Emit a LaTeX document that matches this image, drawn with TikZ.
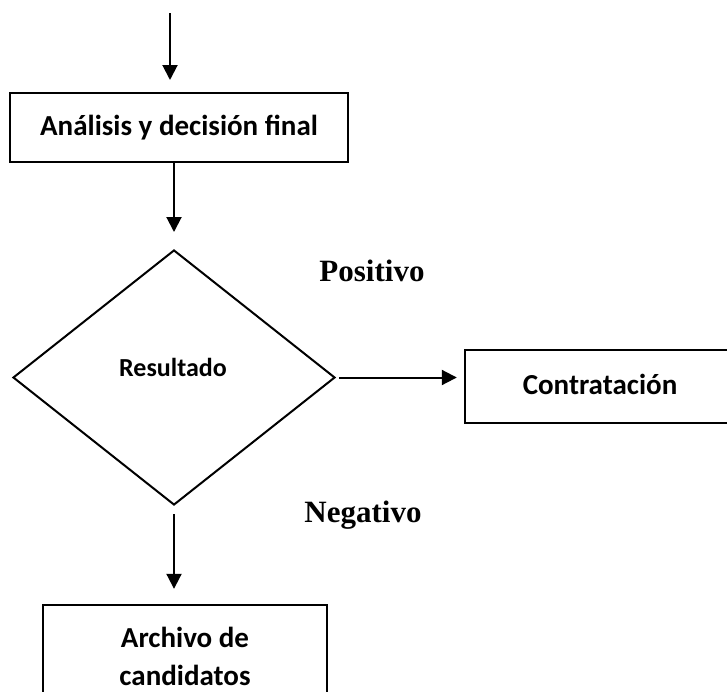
\documentclass[tikz,border=0pt]{standalone}
\usepackage{fontspec}
\setmainfont{Carlito}
\newfontfamily\timesf{Liberation Serif}
\usetikzlibrary{arrows.meta,shapes.geometric}
\begin{document}
\begin{tikzpicture}[x=1pt,y=-1pt,
  box/.style={draw, line width=2.4pt, font=\bfseries\fontsize{29}{38}\selectfont, align=center, inner sep=0pt},
  arr/.style={line width=2pt, -{Triangle[length=15pt,width=15pt]}},
  lab/.style={font=\timesf\bfseries\fontsize{31}{36}\selectfont}]
\useasboundingbox (0,0) rectangle (727,691);
\coordinate (in) at (170,13);
\coordinate (inend) at (170,80);
\node[box, minimum width=338pt, minimum height=69pt] (ana) at (179,127.5) {\raisebox{3pt}{Análisis y decisión final}};
\node[draw, diamond, line width=2pt, minimum width=322pt, minimum height=255pt, inner sep=0pt] (dec) at (174,377.5) {};
\node[font=\bfseries\fontsize{26}{30}\selectfont] (res) at (173,367) {Resultado};
\node[box, minimum width=270pt, minimum height=73pt] (con) at (600,386.5) {\raisebox{5pt}{Contratación}};
\node[box, minimum width=284pt, minimum height=102pt] (arc) at (185,656) {Archivo de\\candidatos};
\node[lab] (pos) at (372,271) {Positivo};
\node[lab] (neg) at (363,515) {Negativo};
\draw[arr] (in) -- (inend);
\draw[arr, shorten >=17pt] (dec.north |- ana.south) -- (dec.north);
\draw[arr, shorten <=3pt, shorten >=7pt] (dec.east) -- (con.west |- dec.east);
\draw[arr, shorten <=8pt, shorten >=15pt] (dec.south) -- (dec.south |- arc.north);
\end{tikzpicture}
\end{document}
